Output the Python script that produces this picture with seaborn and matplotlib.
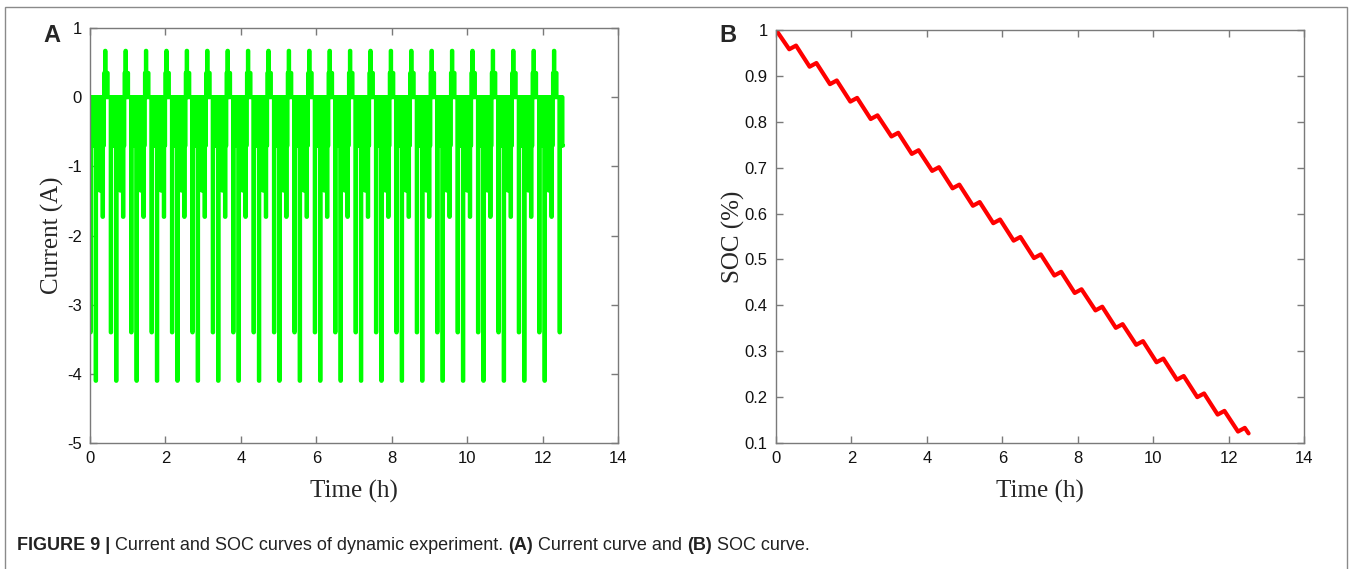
import numpy as np
import pandas as pd
import seaborn as sns
import matplotlib.pyplot as plt
from matplotlib.patches import Rectangle

# one cycle of the dynamic current profile (A) and step lengths (min)
cycle_current = [0, -3.4, 0, -0.7, 0, -0.7, 0, -0.7, 0, -4.1, 0, -0.7, 0, -0.45, -0.7, 0,
                 -1.35, 0, -0.7, 0, -0.7, -1.73, 0, -0.7, 0, 0.35, 0, 0.67, 0.35, 0, 0.35, 0]
cycle_minutes = [0.5, 0.5, 1.5, 1.0, 1.5, 1.0, 1.5, 1.0, 0.5, 0.5, 1.0, 1.0, 1.0, 0.8, 1.0, 1.2,
                 0.5, 1.0, 1.0, 1.0, 1.0, 0.5, 0.5, 1.0, 0.5, 1.0, 0.5, 0.5, 1.0, 1.0, 1.5, 4.46]
n_cycles = 23
tail_steps = 6

# SOC turning points
soc_time = [0.0,
            0.35, 0.53, 0.89, 1.07, 1.43, 1.61, 1.97, 2.15, 2.51, 2.69, 3.06, 3.24,
            3.60, 3.78, 4.14, 4.32, 4.68, 4.86, 5.22, 5.40, 5.76, 5.94, 6.30, 6.48,
            6.84, 7.02, 7.38, 7.56, 7.92, 8.10, 8.47, 8.65, 9.01, 9.19, 9.55, 9.73,
            10.09, 10.27, 10.63, 10.81, 11.17, 11.35, 11.71, 11.89, 12.25, 12.43, 12.53]
soc_value = [1.0,
             0.958, 0.966, 0.920, 0.928, 0.882, 0.890, 0.844, 0.852, 0.806, 0.814, 0.768, 0.776,
             0.730, 0.738, 0.693, 0.701, 0.655, 0.663, 0.617, 0.625, 0.579, 0.587, 0.541, 0.549,
             0.503, 0.511, 0.465, 0.473, 0.427, 0.435, 0.389, 0.397, 0.351, 0.359, 0.314, 0.322,
             0.276, 0.284, 0.238, 0.246, 0.200, 0.208, 0.162, 0.170, 0.125, 0.133, 0.121]

levels = cycle_current * n_cycles + cycle_current[:tail_steps]
steps = cycle_minutes * n_cycles + cycle_minutes[:tail_steps]
t_edges = np.concatenate([[0], np.cumsum(steps)]) / 60.0
current = pd.DataFrame({'t': t_edges, 'i': levels + [levels[-1]]})
soc = pd.DataFrame({'t': soc_time, 'soc': soc_value})

sns.set_theme(style='white')
plt.rcParams['font.family'] = ['Liberation Sans', 'DejaVu Sans']
plt.rcParams['axes.unicode_minus'] = False
serif = ['Liberation Serif', 'DejaVu Serif']
spine_c = '#7a7a7a'

fig = plt.figure(figsize=(13.52, 5.69), dpi=100)
ax1 = fig.add_axes([0.0666, 0.2214, 0.3905, 0.7294])
ax2 = fig.add_axes([0.574, 0.2214, 0.3905, 0.7259])

sns.lineplot(data=current, x='t', y='i', ax=ax1, color='#00ff00', linewidth=3,
             drawstyle='steps-post', estimator=None, sort=False)
sns.lineplot(data=soc, x='t', y='soc', ax=ax2, color='#ff0000', linewidth=3,
             estimator=None, sort=False)

ax1.set_xlim(0, 14)
ax1.set_ylim(-5, 1)
ax1.set_xticks(range(0, 15, 2))
ax1.set_yticks(range(-5, 2))
ax1.set_ylabel('Current (A)', family=serif, fontsize=18, labelpad=2)

ax2.set_xlim(0, 14)
ax2.set_ylim(0.1, 1)
ax2.set_xticks(range(0, 15, 2))
ax2.set_yticks([0.1, 0.2, 0.3, 0.4, 0.5, 0.6, 0.7, 0.8, 0.9, 1])
ax2.set_yticklabels(['0.1', '0.2', '0.3', '0.4', '0.5', '0.6', '0.7', '0.8', '0.9', '1'])
ax2.set_ylabel('SOC (%)', family=serif, fontsize=18, labelpad=0)

for ax in (ax1, ax2):
    ax.set_xlabel('Time (h)', family=serif, fontsize=18, labelpad=10)
    ax.tick_params(direction='in', length=5, width=1, colors=spine_c, labelcolor='#111111',
                   labelsize=12, top=True, right=True, bottom=True, left=True, pad=6)
    for s in ax.spines.values():
        s.set_color(spine_c)
        s.set_linewidth(1)

fig.text(52 / 1352, 1 - 35 / 569, 'A', fontsize=17, fontweight='bold', ha='center', va='center')
fig.text(728 / 1352, 1 - 35 / 569, 'B', fontsize=17, fontweight='bold', ha='center', va='center')

# figure frame
fig.patches.append(Rectangle((5 / 1352, -0.02), 1342 / 1352, 1.02 - 7 / 569,
                             transform=fig.transFigure, fill=False,
                             edgecolor='#8a8a8a', linewidth=1))

# caption: bold lead-in followed by normal text
cap_y = 1 - 545 / 569
parts = [('FIGURE 9 | ', 'bold'), ('Current and SOC curves of dynamic experiment. ', 'normal'),
         ('(A)', 'bold'), (' Current curve and ', 'normal'), ('(B)', 'bold'),
         (' SOC curve.', 'normal')]
fig.canvas.draw()
renderer = fig.canvas.get_renderer()
x = 17
for txt, w in parts:
    t = fig.text(x / 1352, cap_y, txt, fontsize=13, fontweight=w, va='center', ha='left',
                 color='#222222')
    x += t.get_window_extent(renderer).width

fig.savefig('out.png', dpi=100)
